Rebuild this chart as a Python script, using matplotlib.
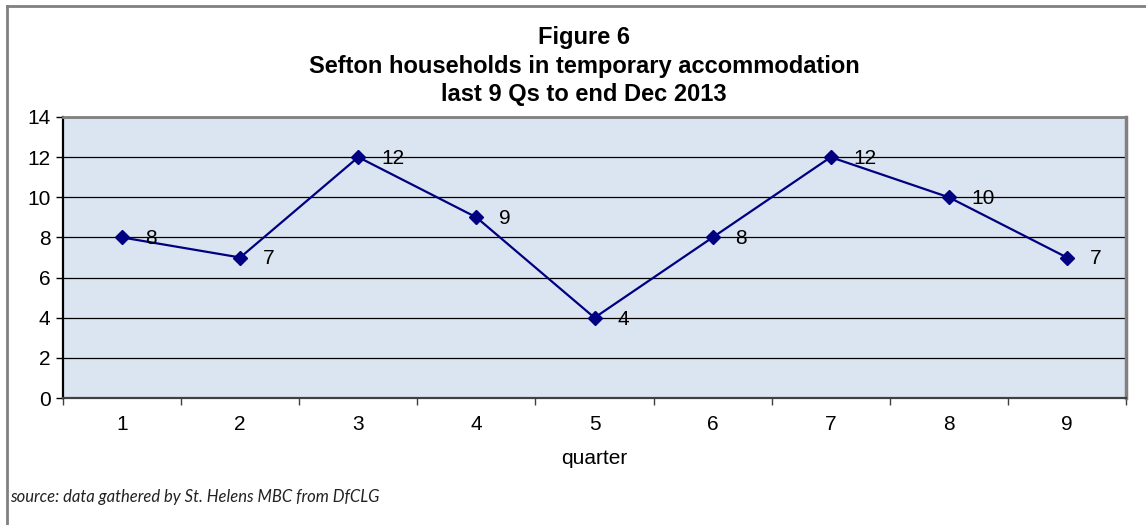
import matplotlib
matplotlib.use("Agg")
import matplotlib.pyplot as plt
from matplotlib.lines import Line2D
import numpy as np

quarters = [1, 2, 3, 4, 5, 6, 7, 8, 9]
households = [8, 7, 12, 9, 4, 8, 12, 10, 7]

title = "Figure 6\nSefton households in temporary accommodation\nlast 9 Qs to end Dec 2013"
source = "source: data gathered by St. Helens MBC from DfCLG"

plt.rcParams["font.family"] = ["Liberation Sans", "DejaVu Sans"]

fig = plt.figure(figsize=(11.46, 5.25), dpi=100)
ax = fig.add_axes([63/1146, 1-398/525, (1126-63)/1146, (398-117)/525])
ax.set_facecolor("#dbe5f1")

ax.plot(quarters, households, color="#000080", lw=1.6, marker="D",
        ms=7.5, mfc="#000080", mec="#000080", zorder=3)
for q, v in zip(quarters, households):
    ax.annotate(str(v), (q, v), xytext=(16.5, -1), textcoords="offset points",
                ha="left", va="center", fontsize=15, color="black", zorder=4)

ax.set_xlim(0.5, 9.5)
ax.set_ylim(0, 14)
ax.set_yticks(np.arange(0, 15, 2))
ax.yaxis.grid(True, color="black", lw=0.9)
ax.set_axisbelow(True)

# category labels at centres, tick marks on the boundaries
ax.set_xticks(quarters)
ax.set_xticklabels([str(q) for q in quarters])
ax.set_xticks(np.arange(0.5, 10, 1), minor=True)
ax.tick_params(axis="x", which="major", length=0, pad=12, labelsize=15)
ax.tick_params(axis="x", which="minor", length=5, width=1, color="#404040", direction="out")
ax.tick_params(axis="y", length=5, width=1, color="black", labelsize=15, pad=4)

ax.spines["left"].set_color("black")
ax.spines["left"].set_linewidth(1.6)
ax.spines["bottom"].set_color("#404040")
ax.spines["bottom"].set_linewidth(1.6)
ax.spines["top"].set_color("#808080")
ax.spines["top"].set_linewidth(2)
ax.spines["right"].set_color("#808080")
ax.spines["right"].set_linewidth(2.5)

ax.set_xlabel("quarter", fontsize=15, labelpad=11)

fig.text(584/1146, 1-66/525, title, ha="center", va="center",
         fontsize=17, fontweight="bold", linespacing=1.28)
fig.text(10/1146, 1-497/525, source, ha="left", va="center",
         fontsize=12, style="italic", family=["Lato", "DejaVu Sans"], color="#222222")

# outer chart frame, open on the right and bottom
fig.add_artist(Line2D([7/1146, 1], [1-5.5/525, 1-5.5/525], transform=fig.transFigure,
                      color="#808080", lw=2))
fig.add_artist(Line2D([7/1146, 7/1146], [0, 1-5.5/525], transform=fig.transFigure,
                      color="#808080", lw=2))

fig.savefig("out.png", dpi=100)
